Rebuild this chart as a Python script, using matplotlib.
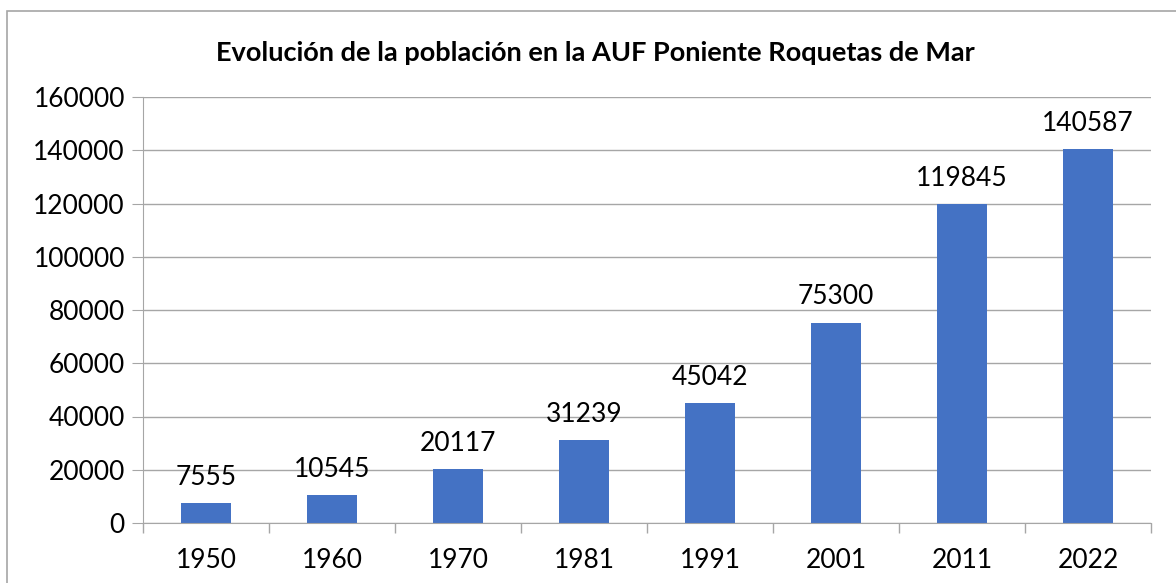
import matplotlib.pyplot as plt
from matplotlib.patches import Rectangle
import numpy as np

# Datos
anios = ["1950", "1960", "1970", "1981", "1991", "2001", "2011", "2022"]
poblacion = [7555, 10545, 20117, 31239, 45042, 75300, 119845, 140587]
yticks = [0, 20000, 40000, 60000, 80000, 100000, 120000, 140000, 160000]
titulo = "Evolución de la población en la AUF Poniente Roquetas de Mar"

plt.rcParams['font.family'] = ['Lato', 'DejaVu Sans']

fig = plt.figure(figsize=(11.76, 5.83), dpi=100)
W, H = 1176, 583
ax = fig.add_axes([143 / W, 1 - 523 / H, (1151 - 143) / W, (523 - 97) / H])

x = np.arange(len(anios))
barras = ax.bar(x, poblacion, width=0.39, color='#4472C4', zorder=3)

# Etiquetas de datos
for xi, v in zip(x, poblacion):
    ax.annotate(str(v), (xi, v), xytext=(0, 13), textcoords='offset points',
                ha='center', va='baseline', fontsize=19, color='#000000')

ax.set_xlim(-0.5, len(anios) - 0.5)
ax.set_ylim(0, 160000)
ax.set_yticks(yticks)
ax.set_yticklabels([str(t) for t in yticks], fontsize=19)
ax.set_xticks(x)
ax.set_xticklabels(anios, fontsize=19)
ax.tick_params(axis='x', length=0, pad=18)
ax.tick_params(axis='y', length=8, color='#a6a6a6', pad=5)

# Marcas entre categorías en el eje x
ax.set_xticks(np.arange(len(anios) + 1) - 0.5, minor=True)
ax.tick_params(axis='x', which='minor', length=7, color='#a6a6a6', width=1)

ax.grid(axis='y', color='#a6a6a6', linewidth=1, zorder=0)
for s in ['top', 'right']:
    ax.spines[s].set_visible(False)
ax.spines['left'].set_color('#a6a6a6')
ax.spines['bottom'].set_color('#a6a6a6')
ax.spines['bottom'].set_zorder(4)

fig.text(595 / W, 1 - 53 / H, titulo, ha='center', va='center',
         fontsize=19.5, fontweight='bold', color='#000000')

# Borde del gráfico
fig.patches.append(Rectangle((7 / W, -0.1), 1.2, 1 - 11 / H + 0.1,
                             transform=fig.transFigure, fill=False,
                             edgecolor='#a6a6a6', linewidth=1.2))

fig.savefig("out.png", dpi=100)
